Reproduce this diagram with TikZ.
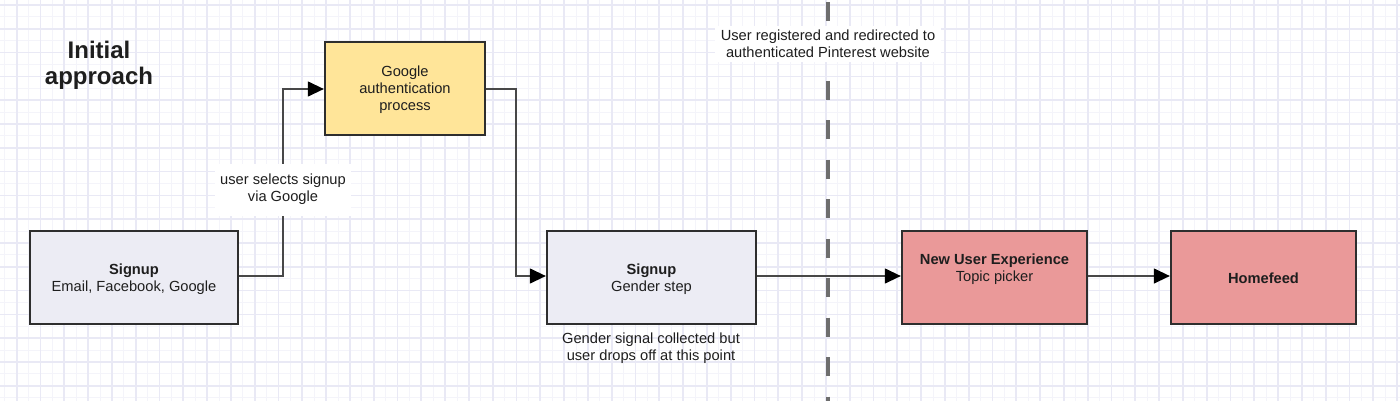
\documentclass[tikz,border=0pt]{standalone}
\usepackage{fontspec}
\setmainfont{Liberation Sans}
\usetikzlibrary{arrows.meta}
\definecolor{gridmin}{HTML}{F4F4FA}
\definecolor{gridmaj}{HTML}{E9E9F5}
\definecolor{signupfill}{HTML}{ECECF4}
\definecolor{authfill}{HTML}{FFE599}
\definecolor{pinkfill}{HTML}{EA9999}
\definecolor{edgecol}{HTML}{2E2E2E}
\definecolor{linegrey}{HTML}{484848}
\definecolor{dashgrey}{HTML}{6E6E6E}
\definecolor{txtcol}{HTML}{1E1E1E}
\tikzset{
  boxbase/.style={draw=edgecol, line width=1.6pt, minimum height=69.75pt, inner sep=0pt,
    text=txtcol, align=center, font=\fontsize{11}{12.75}\selectfont},
  signupbox/.style={boxbase, fill=signupfill},
  authbox/.style={boxbase, fill=authfill},
  pinkbox/.style={boxbase, fill=pinkfill},
  plaintext/.style={text=txtcol, align=center, inner sep=0pt, font=\fontsize{11}{12.75}\selectfont},
  conn/.style={draw=linegrey, line width=1.6pt, -{Triangle[length=12pt,width=11pt,fill=black,color=black]}},
}
\begin{document}
\begin{tikzpicture}[x=0.75pt,y=-0.75pt]
\useasboundingbox (0,0) rectangle (1400,401);
\fill[white] (0,0) rectangle (1400,401);
% grid
\foreach \i in {0,...,118} {\draw[gridmin, line width=0.75pt] ({4.8+\i*11.9},0) -- ({4.8+\i*11.9},401);}
\foreach \i in {0,...,34} {\draw[gridmin, line width=0.75pt] (0,{-6.9+\i*11.9}) -- (1400,{-6.9+\i*11.9});}
\foreach \i in {0,...,58} {\draw[gridmaj, line width=1.3pt] ({16.7+\i*23.8},0) -- ({16.7+\i*23.8},401);}
\foreach \i in {0,...,16} {\draw[gridmaj, line width=1.3pt] (0,{5+\i*23.8}) -- (1400,{5+\i*23.8});}

% dashed divider
\coordinate (dtop) at (828,2);
\coordinate (dbot) at (828,401);
\draw[dashgrey, line width=2.4pt, dash pattern=on 14.2pt off 15.4pt] (dtop) -- (dbot);

% title
\node[text=txtcol, align=center, inner sep=0pt, font=\fontsize{18}{19.5}\selectfont\bfseries] (title) at (99,65) {Initial\\approach};

% boxes
\node[signupbox, minimum width=156pt] (signup1) at (134,277.5) {};
\node[plaintext] (signup1label) at (134,279) {\textbf{Signup}\\Email, Facebook, Google};
\node[authbox, minimum width=120pt] (auth) at (405,88.5) {};
\node[plaintext] (authlabel) at (405,90) {Google\\authentication\\process};
\node[signupbox, minimum width=156.75pt] (signup2) at (651.5,277.5) {};
\node[plaintext] (signup2label) at (651.5,279) {\textbf{Signup}\\Gender step};
\node[pinkbox, minimum width=138.75pt] (nux) at (994.5,277.5) {};
\node[plaintext] (nuxlabel) at (994.5,269) {\textbf{New User Experience}\\Topic picker};
\node[pinkbox, minimum width=138.75pt] (home) at (1263.5,277.5) {};
\node[plaintext] (homelabel) at (1263.5,278.5) {\textbf{Homefeed}};

% connectors
\draw[conn] (signup1.east |- 0,276) -| (283,182) |- (auth.west |- 0,89);
\node[plaintext, fill=white, minimum width=102pt, minimum height=39pt] (sellabel) at (283,189.5) {user selects signup\\via Google};
\draw[conn] (auth.east |- 0,89) -| (516,182) |- (signup2.west |- 0,276);
\draw[conn] (signup2.east |- 0,276) -- (nux.west |- 0,276);
\draw[conn] (nux.east |- 0,276) -- (home.west |- 0,276);

% annotations
\node[plaintext, fill=white, minimum width=170pt, minimum height=27pt] (reglabel) at (828,44) {User registered and redirected to\\authenticated Pinterest website};
\node[plaintext] (genderlabel) at (651,348.5) {Gender signal collected but\\user drops off at this point};
\end{tikzpicture}
\end{document}
